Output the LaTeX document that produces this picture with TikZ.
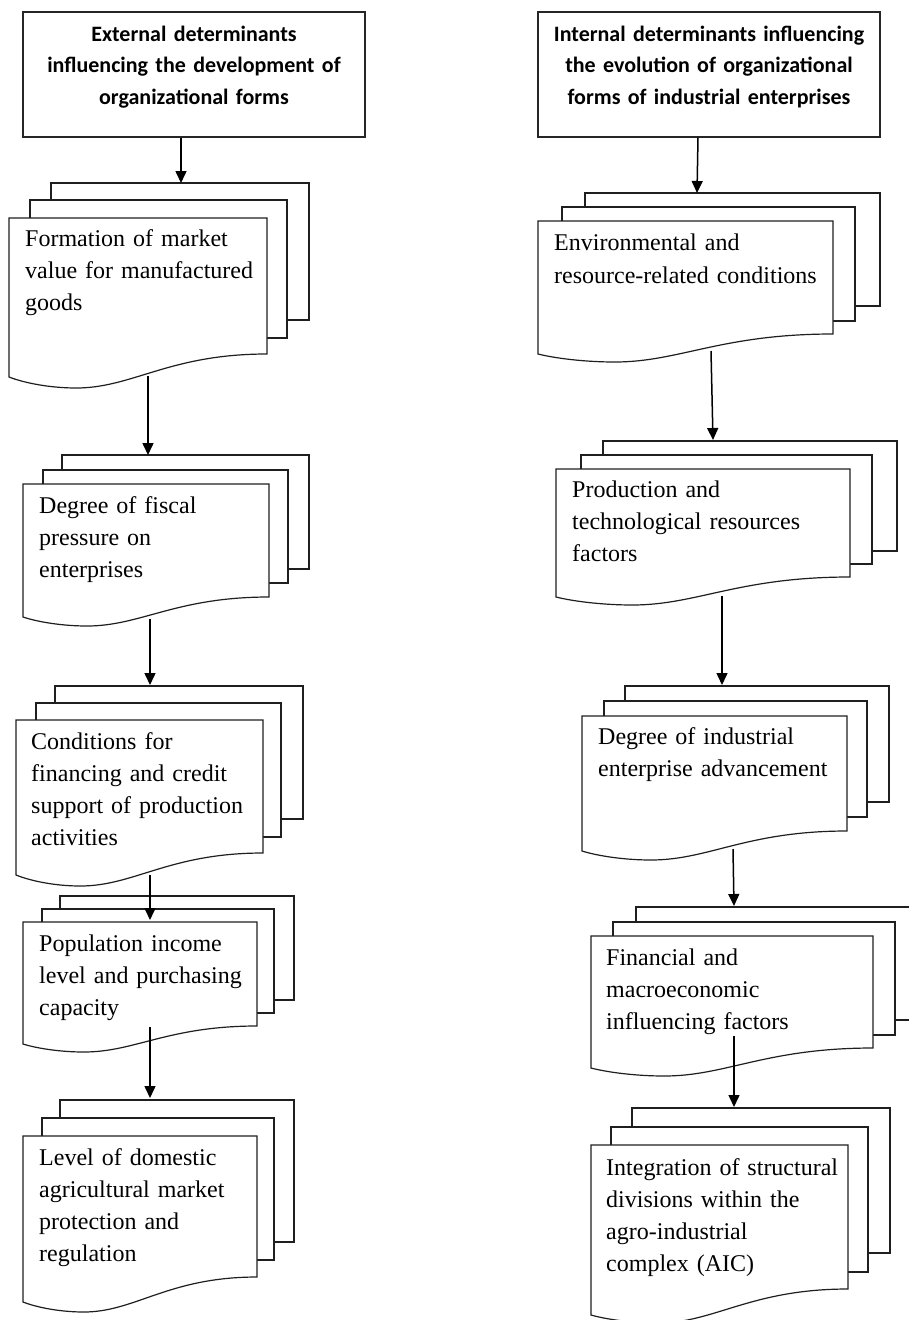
\documentclass[tikz,border=0pt]{standalone}
\usepackage{fontspec}
\setmainfont{Liberation Serif}
\newfontfamily\hdrfont{Carlito}
\usetikzlibrary{arrows.meta}
\tikzset{
  pg/.style={draw=black!88, line width=1.2pt, fill=white, line join=miter},
  hbox/.style={draw=black!85, line width=1.3pt, minimum width=342pt, minimum height=125pt, inner sep=0pt},
  arr/.style={draw=black, line width=1.5pt, -{Triangle[length=12pt,width=11pt]}},
  body/.style={inner sep=0pt, anchor=base west, text width=330pt, align=left, font=\fontsize{24}{32}\selectfont},
  hdr/.style={inner sep=0pt, anchor=base, text width=340pt, align=center, font=\hdrfont\bfseries\fontsize{22}{31.5}\selectfont}
}
\newcommand\pagerect[4]{\draw[pg] (#1,#3) rectangle (#2,#4);}
\newcommand\docfront[6]{\draw[pg] (#1,#3) -- (#2,#3) -- (#2,#4)
  .. controls ({#1+0.62*(#2-#1)},#4) and ({#1+0.48*(#2-#1)},#6) .. ({#1+0.26*(#2-#1)},#6)
  .. controls ({#1+0.16*(#2-#1)},#6) and ({#1+0.06*(#2-#1)},{#5+0.55*(#6-#5)}) .. (#1,#5) -- cycle;}
\begin{document}
\begin{tikzpicture}[x=1pt,y=-1pt]
\useasboundingbox[fill=white] (0,0) rectangle (908,1320);

% headers
\node[hbox] (h1) at (194,74.5) {};
\node[hdr] (h1t) at (194,41) {External determinants\\influencing the development of\\organizational forms};
\node[hbox] (h2) at (709,74.5) {};
\node[hdr] (h2t) at (709,41) {Internal determinants influencing\\the evolution of organizational\\forms of industrial enterprises};

% ---------- left column ----------
\pagerect{51}{309}{183}{320}
\pagerect{30}{287}{200}{338}
\docfront{9}{267}{218}{354}{377}{388}
\node[body] (l1) at (25,246) {Formation of market\\value for manufactured\\goods};

\pagerect{62}{309}{455}{569}
\pagerect{43}{288}{470}{583}
\docfront{23}{269}{484}{597}{617}{626}
\node[body] (l2) at (39,513) {Degree of fiscal\\pressure on\\enterprises};

\pagerect{55}{303}{686}{819}
\pagerect{36}{281}{703}{837}
\docfront{16}{263}{720}{853}{875}{886}
\node[body] (l3) at (31,749) {Conditions for\\financing and credit\\support of production\\activities};

\pagerect{60}{294}{896}{1000}
\pagerect{42}{274}{909}{1013}
\docfront{23}{257}{922}{1026}{1044}{1052}
\node[body] (l4) at (39,951) {Population income\\level and purchasing\\capacity};

\pagerect{60}{294}{1100}{1242}
\pagerect{42}{274}{1118}{1260}
\docfront{23}{257}{1136}{1277}{1302}{1312}
\node[body] (l5) at (39,1165) {Level of domestic\\agricultural market\\protection and\\regulation};

% ---------- right column ----------
\pagerect{585}{880}{193}{306}
\pagerect{562}{855}{207}{321}
\docfront{538}{833}{221}{334}{354}{362}
\node[body] (r1) at (554,250) {Environmental and\\[1.5pt]resource-related conditions};

\pagerect{603}{897}{441}{551}
\pagerect{581}{872}{455}{564}
\docfront{556}{850}{469}{577}{597}{605}
\node[body] (r2) at (572,497) {Production and\\technological resources\\factors};

\pagerect{625}{889}{686}{802}
\pagerect{604}{867}{701}{817}
\docfront{582}{847}{716}{831}{851}{860}
\node[body] (r3) at (598,744) {Degree of industrial\\enterprise advancement};

\pagerect{636}{915}{907}{1020}
\pagerect{613}{895}{922}{1035}
\docfront{591}{873}{936}{1048}{1068}{1076}
\node[body] (r4) at (606,965) {Financial and\\macroeconomic\\influencing factors};

\pagerect{632}{890}{1108}{1253}
\pagerect{611}{868}{1127}{1272}
\docfront{591}{848}{1145}{1289}{1315}{1323}
\node[body] (r5) at (606,1175) {Integration of structural\\divisions within the\\agro-industrial\\complex (AIC)};

% ---------- connector end points ----------
\coordinate (l1in) at (181,183);
\coordinate (l1out) at (148,376);
\coordinate (l2in) at (148,455);
\coordinate (l2out) at (150,619);
\coordinate (l3in) at (150,685);
\coordinate (l3out) at (150,875);
\coordinate (l4in) at (150,920);
\coordinate (l4out) at (150,1027);
\coordinate (l5in) at (150,1098);

\coordinate (r1in) at (697,193);
\coordinate (r1out) at (711,351);
\coordinate (r2in) at (713,440);
\coordinate (r2out) at (722,596);
\coordinate (r3in) at (722,685);
\coordinate (r3out) at (733,849);
\coordinate (r4in) at (734,906);
\coordinate (r4out) at (734,1036);
\coordinate (r5in) at (734,1107);

% ---------- connectors ----------
\draw[arr] ([xshift=-13pt]h1.south) -- (l1in);
\draw[arr] (l1out) -- (l2in);
\draw[arr] (l2out) -- (l3in);
\draw[arr] (l3out) -- (l4in);
\draw[arr] (l4out) -- (l5in);

\draw[arr] ([xshift=-11pt]h2.south) -- (r1in);
\draw[arr] (r1out) -- (r2in);
\draw[arr] (r2out) -- (r3in);
\draw[arr] (r3out) -- (r4in);
\draw[arr] (r4out) -- (r5in);
\end{tikzpicture}
\end{document}
